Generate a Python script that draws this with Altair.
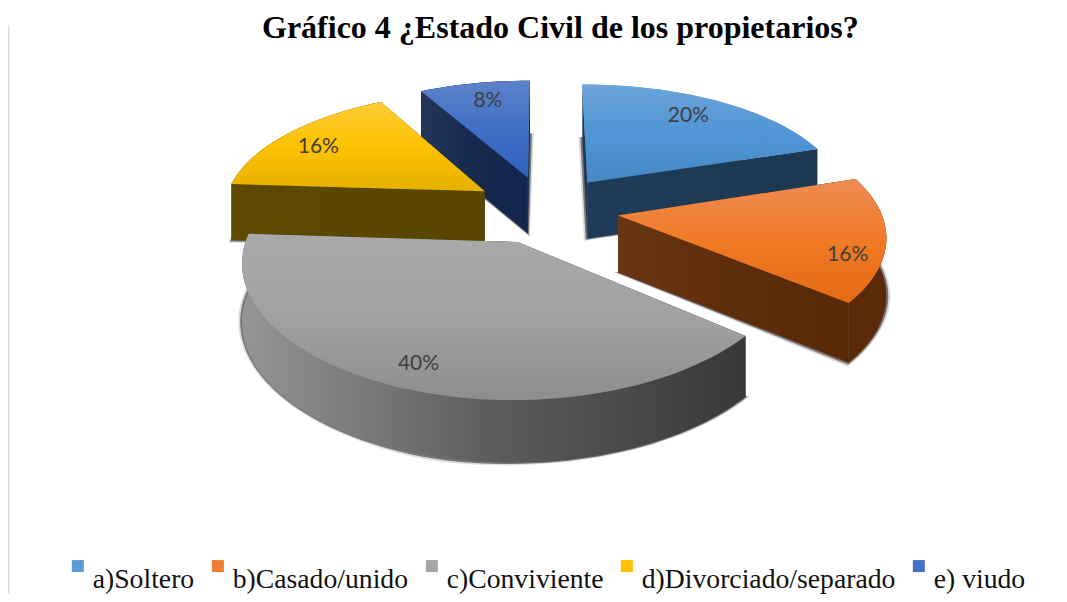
import math
import altair as alt

# ---- data ----
categories = ["a)Soltero", "b)Casado/unido", "c)Conviviente", "d)Divorciado/separado", "e) viudo"]
shares = [20, 16, 40, 16, 8]
percent_labels = ["20%", "16%", "40%", "16%", "8%"]

# ---- styles ----
legend_colors = ["#5B9BD5", "#ED7D31", "#A5A5A5", "#FFC000", "#4472C4"]
face_stops = [
    ["#6CA5DB", "#5095D5", "#4488C6"],
    ["#EE8C55", "#F07A25", "#E56A15"],
    ["#A9A9A9", "#A1A1A1", "#8E8E8E"],
    ["#FFCB3A", "#FDC200", "#E6B000"],
    ["#5C83C9", "#4070C4", "#2E60BF"],
]
radial_stops = [
    ["#1E3C58", "#1D3A55", "#1C3752"],
    ["#6A3512", "#5E2D0C", "#582806"],
    ["#555555", "#454545", "#383838"],
    ["#5E4A00", "#5A4700", "#584500"],
    ["#233659", "#18294F", "#13264D"],
]
outer_stops = [
    ["#1E3C58", "#1D3A55", "#1C3752"],
    ["#5A2A08", "#5A2A08", "#5C2B09"],
    ["#959595", "#5C5C5C", "#383838"],
    ["#5E4A00", "#5A4700", "#584500"],
    ["#233659", "#18294F", "#13264D"],
]
label_radius = [0.79, 0.875, 0.86, 0.81, 0.785]
label_turn = [-1.5, 9.5, -0.5, -2, 1]
paint_order = [4, 0, 3, 1, 2]

# ---- 3D pie projection parameters (screen pixels inside the chart) ----
CX, CY = 545.5 - 8, 209 - 8
A, B = 262.0, 121.3
PERSP_X = 0.14
PERSP_Y = 0.1586
EXPLODE = 0.28
DEPTH = 57.0


def project(x, y, drop=0.0):
    sx = 1.0 / (1.0 + PERSP_X * y)
    sy = 1.0 / (1.0 + PERSP_Y * y)
    return [CX + A * x * sx, CY - B * y * sy + drop * DEPTH * (1 + 0.4 * (sy - 1))]


def local(center, ang, r):
    return center[0] + r * math.sin(ang), center[1] + r * math.cos(ang)


def feature(points, name=""):
    ring = [list(p) for p in points] + [list(points[0])]
    return {"type": "Feature", "name": name, "properties": {"name": name},
            "geometry": {"type": "Polygon", "coordinates": [ring]}}


def gradient(stops, vertical):
    n = len(stops) - 1
    end = dict(x1=0, x2=0, y1=0, y2=1) if vertical else dict(x1=0, x2=1, y1=0, y2=0)
    return alt.LinearGradient(gradient="linear",
                              stops=[alt.GradientStop(color=c, offset=i / n) for i, c in enumerate(stops)],
                              **end)


def grow(points, d):
    mx = sum(p[0] for p in points) / len(points)
    my = sum(p[1] for p in points) / len(points)
    out = []
    for p in points:
        dx, dy = p[0] - mx, p[1] - my
        n = math.hypot(dx, dy) or 1
        out.append([p[0] + dx / n * d, p[1] + dy / n * d])
    return out


PROJ = dict(type="identity", scale=1, translate=[0, 0])


def shape(features, **kw):
    return alt.Chart(alt.Data(values=features)).mark_geoshape(strokeWidth=0, **kw).project(**PROJ)


total = sum(shares)
geo = []
start = 0.0
for v in shares:
    a0 = start / total * 2 * math.pi
    a1 = (start + v) / total * 2 * math.pi
    start += v
    mid = (a0 + a1) / 2
    c = (EXPLODE * math.sin(mid), EXPLODE * math.cos(mid))
    steps = max(4, int((a1 - a0) / math.radians(2)))
    rim = [local(c, a0 + (a1 - a0) * i / steps, 1.0) for i in range(steps + 1)]
    geo.append(dict(center=c, rim=rim, a0=a0, a1=a1, mid=mid))

layers = []
# flat faces: carry the colour scale and the legend; covered by the shaded faces
flat = []
for g, name in zip(geo, categories):
    flat.append(feature([project(*g["center"])] + [project(*p) for p in g["rim"]], name))
layers.append(
    shape(flat).encode(
        color=alt.Color(
            "name:N",
            sort=categories,
            scale=alt.Scale(domain=categories, range=legend_colors),
            legend=alt.Legend(
                title=None, orient="none", legendX=56, legendY=544, direction="horizontal",
                columns=5, symbolType="square", symbolSize=144, symbolStrokeWidth=0,
                symbolOpacity=1, labelFont="Liberation Serif", labelFontSize=27.7,
                labelColor="#111111", labelLimit=400, columnPadding=9, labelOffset=1,
                labelBaseline="top", gridAlign="each",
            ),
        )
    )
)

for i in paint_order:
    g = geo[i]
    c, rim = g["center"], g["rim"]
    bottom = [project(*c, drop=1)] + [project(*p, drop=1) for p in rim]
    # soft contact shadow
    layers.append(shape([feature(grow(bottom, 4))], fill="#777777", opacity=0.25))
    layers.append(shape([feature(grow(bottom, 2))], fill="#222222", opacity=0.55))
    # radial walls
    for p in (rim[0], rim[-1]):
        wall = [project(*p), project(*c), project(*c, drop=1), project(*p, drop=1)]
        layers.append(shape([feature(wall)], fill=gradient(radial_stops[i], False)))
    # outer wall, only for slices that reach the front half of the pie
    if g["a1"] > math.pi / 2:
        outer = [project(*p) for p in rim] + [project(*p, drop=1) for p in reversed(rim)]
        layers.append(shape([feature(outer)], fill=gradient(outer_stops[i], False)))
    # top face
    top = [project(*c)] + [project(*p) for p in rim]
    layers.append(shape([feature(top)], fill=gradient(face_stops[i], True)))

# percentage labels
label_rows = []
for g, txt, r, turn in zip(geo, percent_labels, label_radius, label_turn):
    x, y = local(g["center"], g["mid"] + math.radians(turn), r)
    px, py = project(x, y)
    label_rows.append({"lon": px, "lat": py, "txt": txt})
layers.append(
    alt.Chart(alt.Data(values=label_rows))
    .mark_text(font="Lato", fontSize=21, color="#404040", align="center", baseline="middle")
    .encode(longitude="lon:Q", latitude="lat:Q", text="txt:N")
    .project(**PROJ)
)

# thin frame line on the left of the picture
layers.append(
    alt.Chart(alt.Data(values=[{"a": 0}]))
    .mark_rule(color="#DDDDDD", strokeWidth=1.5)
    .encode(x=alt.value(0.75), y=alt.value(17), y2=alt.value(594))
)

chart = (
    alt.layer(*layers)
    .properties(
        width=1051,
        height=586,
        padding=0,
        autosize=alt.AutoSizeParams(type="none"),
        title=alt.TitleParams(
            text="Gráfico 4 ¿Estado Civil de los propietarios?",
            font="Liberation Serif", fontSize=32, fontWeight="bold", color="#000000",
            anchor="start", frame="group", dx=254, offset=-37,
        ),
    )
    .configure_view(stroke=None)
)

chart.save("out.html", embed_options={"renderer": "svg", "actions": False})
